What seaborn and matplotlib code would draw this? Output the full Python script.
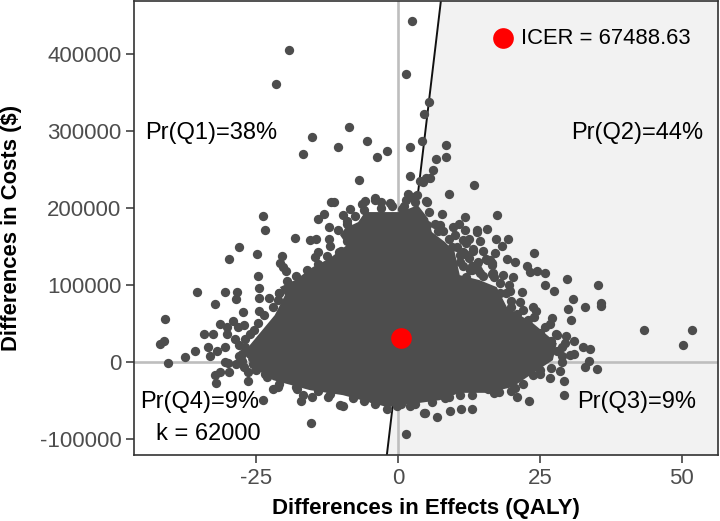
import matplotlib
matplotlib.use("Agg")
import matplotlib.pyplot as plt
import seaborn as sns

# Readable individual simulations (QALY difference, cost difference)
sim_effects = [2.5,-19.2,-21.5,1.5,5.4,4.6,-8.7,-15.2,-5.5,-10.6,-16.8,-1.9,-3.7,2.1,4.3,-6.8,2.2,3.9,5,1.8,1.5,3.3,5,-11.3,-11.8,-5.8,-6.4,-4,-2.9,-1.4,0.65,-8.5,-13.1,-14,-9.6,-9,-12.1,-23.8,-23.5,
 -18.1,-15.5,-14.4,-12.1,-12,-28,-24.8,-29.7,-20.5,-20.8,-20.2,-19.8,-14.1,-14.6,-10.4,-24.6,-24.4,-35.4,-30.4,-28.3,-28.5,-24.4,-22.8,-21.2,-32.2,-27.3,-24.5,-23.6,-41.1,-31.3,-29.1,-27.1,-28.1,-30.2,-24.6,-25.4,-34.2,-32.5,-30.2,-28.7,-41.3,-42,-33.4,-35.7,-30.5,-31.9,-33.1,-37.6,-40.5,-30.5,-29.9,-27.2,-29.7,-31.3,-32.2,-32.1,-26.5,-26.5,-23.4,-22,-21.1,-23.8,-17.7,-16.8,-17,-15.1,-12.3,-10.2,-9.6,-15.3,1.4,-2,-0.2,2.1,4.6,-4.6,
 8.5,8.5,6.8,6.1,5.6,4.5,13.4,9,5.2,7.7,11.8,17.4,7.4,10.8,9.7,11.8,14,15.7,5.2,
 14,17.3,19.4,14.4,11.5,18.3,17.1,15,11.5,24,19.2,20.6,16.2,22.8,23.2,24.5,25.9,16.8,18.5,20.3,29.8,35.2,26,27.5,21.8,19.7,21.5,30.8,33,35.8,35.7,30,23.8,24.4,27.2,30.5,26.8,43.3,51.9,50.2,29.7,27.9,31,32.6,33.9,30.3,33.6,33,35,28.5,26.8,29.3,29.2,23.1,20.9,20.7,23.8,25,17.8,15.9,13,11.2,9.2,6.9,4.7,10.9,8.3,5.9,
 -4,2.6,12.6,13.3,16.5,15.6,14.1,16.5,11.8,10.9,13,14.1,
 -27,-28,-26,-27,-26,-28,-27.5,-28.5,-25,-23,-21,-18,-14,-12,-8,-6,-4,0.5,3,6,9,13,17,20,22,25,27,29,29,28,31,29,27,25,23,21,20,18,-17,-19,-21,
 -22,-21,-19.5,-18,-16,-14,-12.5,-10,-9,-10.5,-9,-7.5,-6,-3,-1,1,3,5.5,6.5,7,9,10.5,11.5,12,15,18,19,20,22,24,26,28,29.5,-27,-27.5,13,17,19.5,10.9,13.2,15.7,13.9,12.7,14.4,16.5,-26,-25.5,
 8,10,9.5,12,12.5]
sim_costs = [443000,406000,361000,375000,338000,322000,305000,292000,288000,280000,270000,275000,266000,279500,288000,237000,242000,236000,239000,219000,211000,217000,209000,208700,208000,210000,205000,211000,208000,207000,199500,199000,192500,186000,191000,184000,175000,190500,171500,
 161000,158500,160500,160500,151000,149000,140500,133500,138000,129000,123000,118500,143000,136000,142500,112500,96500,90500,91000,91500,82500,83500,83000,80500,76000,65000,66500,61000,56000,49500,54000,48000,46000,46000,51000,41500,36000,36000,36500,30500,28000,23500,20000,15000,19000,14500,8000,7000,-1000,500,-1000,-6000,-12500,-13500,-17000,-27000,-12500,-24500,-15000,-35500,-32000,-49000,-35500,-43000,-50500,-46000,-45000,-56000,-57000,-79000,-93000,-61000,-57000,-57000,-66500,-47000,
 282000,266000,263500,250000,239500,234000,230000,218000,208500,193000,188000,191000,178000,179000,175000,172000,171500,173500,178000,
 169000,160500,160500,157000,158500,150500,142000,145000,143000,141500,134500,130500,132500,125000,117500,118500,116000,115500,113000,111000,108500,100500,100000,93000,91500,92500,78500,82500,72000,77000,73000,68500,72000,66000,57500,54500,49500,41500,41500,22000,33500,37000,27000,20000,16500,9000,2000,-6000,-9000,-11000,-21000,-24500,-43000,-50000,-45000,-34000,-17000,-10000,-38500,-35500,-61000,-61500,-63500,-71500,-66500,-43000,-47000,-47000,
 213000,214500,160500,146500,129000,134500,130000,115000,141000,130000,119500,119500,
 20000,22000,36000,30000,12000,8000,2000,-3000,-10000,-20000,-28000,-33000,-38000,-42000,-47000,-50000,-55000,-55000,-55000,-52000,-46000,-43000,-40000,-38000,-28000,-15000,-8000,0,8000,15000,10000,20000,28000,38000,55000,62000,72000,90000,105000,100000,90000,
 72000,90000,105000,112000,120000,128000,138000,145000,158000,172000,180000,190000,198000,200000,203000,203000,208000,195000,180000,170000,160000,150000,125000,110000,112000,103000,90000,80000,68000,58000,45000,35000,25000,15000,10000,125000,110000,100000,139000,145000,132500,128000,119500,115500,126000,10000,-3000,
 170000,165000,150000,155000,135000]

# Outline of the saturated centre of the cloud, where single points cannot be read
core_effects = [-26.1,-23.9,-21.7,-19.9,-20.8,-18.1,-15,-12,-9,-10.2,-9.3,-7,-5.8,0.4,3.5,5.3,6,8.3,10,10.9,14.4,17.4,19.2,23.8,28,27.3,23.8,20.2,15.7,10.9,7.4,3.9,-1.9,-9.7,-15.5,-22,-25.2,-26.4]
core_costs = [22000,41500,61000,87000,97500,106500,123500,135000,152000,165000,174000,182000,195000,195000,204000,187000,169000,156000,143000,113000,106500,97500,71500,50500,24500,2500,-14500,-32500,-40000,-40000,-49500,-53000,-58500,-43000,-36500,-23500,-8000,2500]

mean_effect = [0.46]
mean_cost = [31000]
legend_effect = [18.5]
legend_cost = [421000]
wtp = 62000
x_ticks = [-25, 0, 25, 50]
y_ticks = [-100000, 0, 100000, 200000, 300000, 400000]
x_range = (-46.5, 56.4)
y_range = (-120800, 470000)
quadrants = [("Pr(Q1)=38%", -32.9, 297500), ("Pr(Q2)=44%", 42.1, 297500),
             ("Pr(Q3)=9%", 42.0, -52000), ("Pr(Q4)=9%", -34.9, -52000),
             ("k = 62000", -33.4, -93500)]

sns.set_theme(style="white")
plt.rcParams["font.family"] = ["Liberation Sans", "DejaVu Sans"]
plt.rcParams["axes.unicode_minus"] = False

fig = plt.figure(figsize=(7.2, 5.21), dpi=100)
ax = fig.add_axes([134/720, 1-455/521, (718-134)/720, 455/521-0.001])
ax.set_xlim(*x_range)
ax.set_ylim(*y_range)

ax.fill_betweenx(list(y_range), [y_range[0]/wtp, y_range[1]/wtp], x_range[1], color="#F2F2F2", lw=0, zorder=1)
ax.axhline(0, color="#BEBEBE", lw=1.9, zorder=2)
ax.axvline(0, color="#BEBEBE", lw=1.9, zorder=2)
ax.plot([y_range[0]/wtp, y_range[1]/wtp], list(y_range), color="#111111", lw=1.4, zorder=3)

ax.fill(core_effects, core_costs, color="#4D4D4D", lw=0, zorder=4)
sns.scatterplot(x=sim_effects, y=sim_costs, color="#4D4D4D", s=45, linewidth=0, ax=ax, zorder=5)
sns.scatterplot(x=mean_effect, y=mean_cost, color="#FF0000", s=222, linewidth=0, ax=ax, zorder=6)
sns.scatterplot(x=legend_effect, y=legend_cost, color="#FF0000", s=222, linewidth=0, ax=ax, zorder=6)

for label, x, y in quadrants:
    ax.text(x, y, label, fontsize=17, color="black", ha="center", va="center", zorder=7)
ax.text(21.7, 421000, "ICER = 67488.63", fontsize=15.8, color="black", ha="left", va="center", zorder=7)

ax.set_xticks(x_ticks)
ax.set_yticks(y_ticks)
ax.tick_params(axis="both", length=5.5, width=1.1, color="#333333", labelcolor="#4D4D4D",
               labelsize=16, bottom=True, left=True, pad=3.5)
for s in ax.spines.values():
    s.set_color("#333333")
    s.set_linewidth(1.2)
    s.set_zorder(8)
ax.set_xlabel("Differences in Effects (QALY)", fontsize=16, fontweight="bold", color="black", labelpad=7)
ax.set_ylabel("Differences in Costs ($)", fontsize=15.8, fontweight="bold", color="black", va="center")
ax.yaxis.set_label_coords(-122/584, 0.5)

fig.savefig("out.png", dpi=100)
